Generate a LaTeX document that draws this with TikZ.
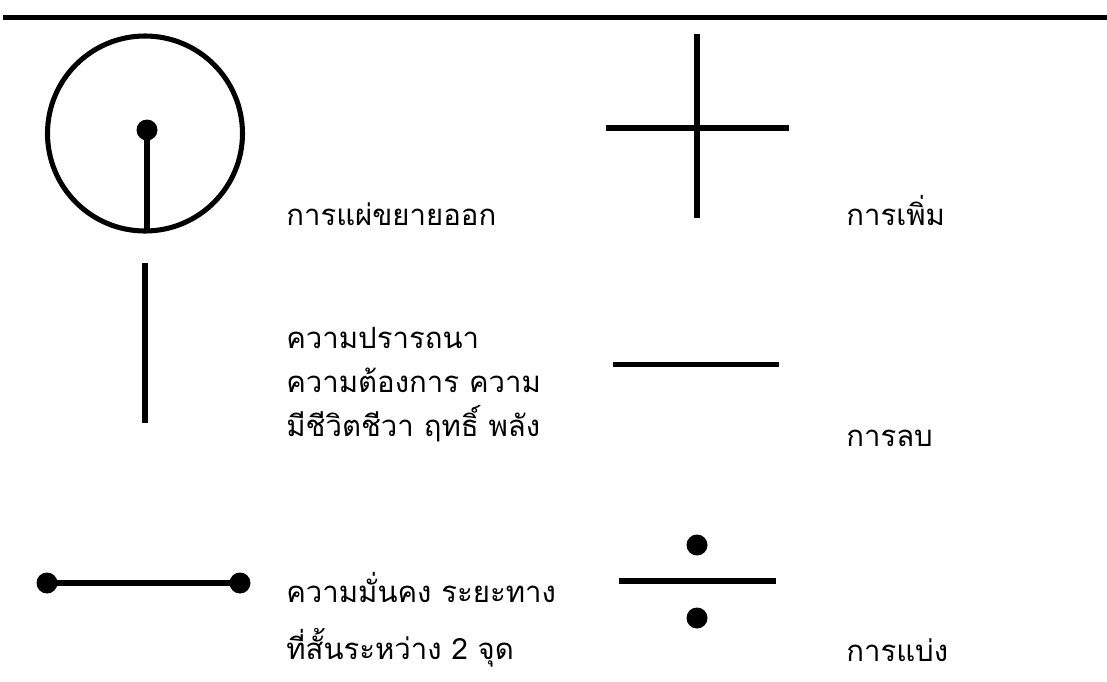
\documentclass[tikz,border=0pt]{standalone}
\usepackage{fontspec}
\newfontfamily\thaifont[Script=Thai]{Loma}
\tikzset{
  sym/.style={line width=3.8pt},
  lbl/.style={anchor=base west,inner sep=0pt,font=\thaifont\fontsize{22}{26}\selectfont},
}
\begin{document}
\begin{tikzpicture}[x=0.75pt,y=-0.75pt]
\useasboundingbox (0,0) rectangle (1107,682);
% Top rule
\draw[sym] (3,17.5) -- (1107,17.5);
% Row 1: circle with stem, plus sign
\draw[sym] (145,133.5) circle[radius=97.5];
\draw[sym] (147,130) -- (147,231);
\fill (147,130) circle[radius=10.5];
\node[lbl] (spread) at (286,225) {การแผ่ขยายออก};
\draw[sym] (697,34) -- (697,218);
\draw[sym] (606,128) -- (789,128);
\node[lbl] (add) at (846,225) {การเพิ่ม};
% Row 2: vertical bar, minus sign
\draw[sym] (145,263) -- (145,423);
\node[lbl] (wishA) at (286,348) {ความปรารถนา};
\node[lbl] (wishB) at (286,392) {ความต้องการ ความ};
\node[lbl] (wishC) at (286,436) {มีชีวิตชีวา ฤทธิ์ พลัง};
\draw[sym] (613,364.5) -- (779,364.5);
\node[lbl] (sub) at (846,446) {การลบ};
% Row 3: bar between two dots, division sign
\draw[sym] (47,583) -- (240,583);
\fill (47,583) circle[radius=10.5];
\fill (240,583) circle[radius=10.5];
\node[lbl] (firmA) at (286,602) {ความมั่นคง ระยะทาง};
\node[lbl] (firmB) at (286,659) {ที่สั้นระหว่าง 2 จุด};
\draw[sym] (619,581) -- (776,581);
\fill (697,545) circle[radius=10.5];
\fill (697,618) circle[radius=10.5];
\node[lbl] (div) at (846,661) {การแบ่ง};
\end{tikzpicture}
\end{document}
